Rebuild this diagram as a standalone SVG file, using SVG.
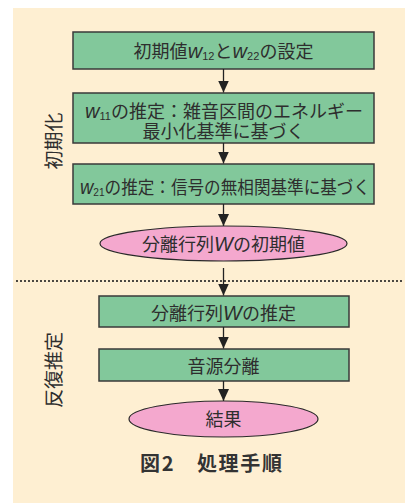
<svg xmlns="http://www.w3.org/2000/svg" width="405" height="503" viewBox="0 0 405 503">
<defs>
<style>
.bg{fill:#FEEFD2}
.box{fill:#82C89B;stroke:#3a3a3a;stroke-width:1.5}
.ell{fill:#F4A8CE;stroke:#2a2a2a;stroke-width:1.2}
.t{font-family:"Noto Sans CJK JP","Noto Sans",sans-serif;font-size:18px;fill:#2e2e2e;text-anchor:middle}
.w{font-family:"Liberation Sans",Arial,sans-serif;font-style:italic;font-size:20px}
.sub{font-family:"Liberation Sans",Arial,sans-serif;font-size:11px}
.side{font-family:"Noto Sans CJK JP",sans-serif;font-size:19px;fill:#2e2e2e;text-anchor:middle;dominant-baseline:central}
.cap{font-family:"Noto Sans CJK JP",sans-serif;font-size:20px;font-weight:bold;fill:#333;text-anchor:middle}
.conn{stroke:#222;stroke-width:1.3;fill:none}
.dot{stroke:#222;stroke-width:2.2;stroke-linecap:round;stroke-dasharray:0 4}
</style>
<marker id="ah" markerUnits="userSpaceOnUse" markerWidth="12" markerHeight="11" refX="12" refY="5.5" orient="auto">
<path d="M0,0 L12,5.5 L0,11 Z" fill="#222"/>
</marker>
</defs>
<rect class="bg" x="13" y="8" width="392" height="495"/>
<line class="dot" x1="17" y1="281" x2="405" y2="281"/>
<text class="side" transform="translate(52,141) rotate(-90)">初期化</text>
<text class="side" transform="translate(52,370) rotate(-90)">反復推定</text>
<g id="n1">
<rect class="box" x="73" y="32" width="301" height="37"/>
<text class="t" x="223.5" y="57.5" textLength="180" lengthAdjust="spacing">初期値<tspan class="w">w</tspan><tspan class="sub" dy="2.5">12</tspan><tspan dy="-2.5">と</tspan><tspan class="w">w</tspan><tspan class="sub" dy="2.5">22</tspan><tspan dy="-2.5">の設定</tspan></text>
</g>
<g id="n2">
<rect class="box" x="73" y="93" width="301" height="50"/>
<text class="t" x="224" y="117.5"><tspan class="w">w</tspan><tspan class="sub" dy="2.5">11</tspan><tspan dy="-2.5">の推定：雑音区間のエネルギー</tspan><tspan x="223.5" dy="20">最小化基準に基づく</tspan></text>
</g>
<g id="n3">
<rect class="box" x="73" y="164" width="301" height="40"/>
<text class="t" x="225" y="193.5" textLength="290" lengthAdjust="spacingAndGlyphs"><tspan class="w">w</tspan><tspan class="sub" dy="2.5">21</tspan><tspan dy="-2.5">の推定：信号の無相関基準に基づく</tspan></text>
</g>
<g id="n4">
<ellipse class="ell" cx="223.5" cy="243.5" rx="123.5" ry="17.5"/>
<text class="t" x="223.5" y="250.5">分離行列<tspan class="w">W</tspan>の初期値</text>
</g>
<g id="n5">
<rect class="box" x="99" y="296" width="250" height="31"/>
<text class="t" x="223.5" y="319.5">分離行列<tspan class="w">W</tspan>の推定</text>
</g>
<g id="n6">
<rect class="box" x="99" y="349" width="250" height="32"/>
<text class="t" x="223.5" y="372.5">音源分離</text>
</g>
<g id="n7">
<ellipse class="ell" cx="223.5" cy="419" rx="94.5" ry="18"/>
<text class="t" x="223.5" y="425.5">結果</text>
</g>
<g id="connectors">
<line class="conn" x1="223.5" y1="69" x2="223.5" y2="92.5" marker-end="url(#ah)"/>
<line class="conn" x1="223.5" y1="143" x2="223.5" y2="163.5" marker-end="url(#ah)"/>
<line class="conn" x1="223.5" y1="204" x2="223.5" y2="226" marker-end="url(#ah)"/>
<line class="conn" x1="223.5" y1="268" x2="223.5" y2="295.5" marker-end="url(#ah)"/>
<line class="conn" x1="223.5" y1="327" x2="223.5" y2="348.5" marker-end="url(#ah)"/>
<line class="conn" x1="223.5" y1="381" x2="223.5" y2="401" marker-end="url(#ah)"/>
</g>
<text class="cap" x="211" y="471" textLength="142" lengthAdjust="spacing">図2　処理手順</text>
</svg>
